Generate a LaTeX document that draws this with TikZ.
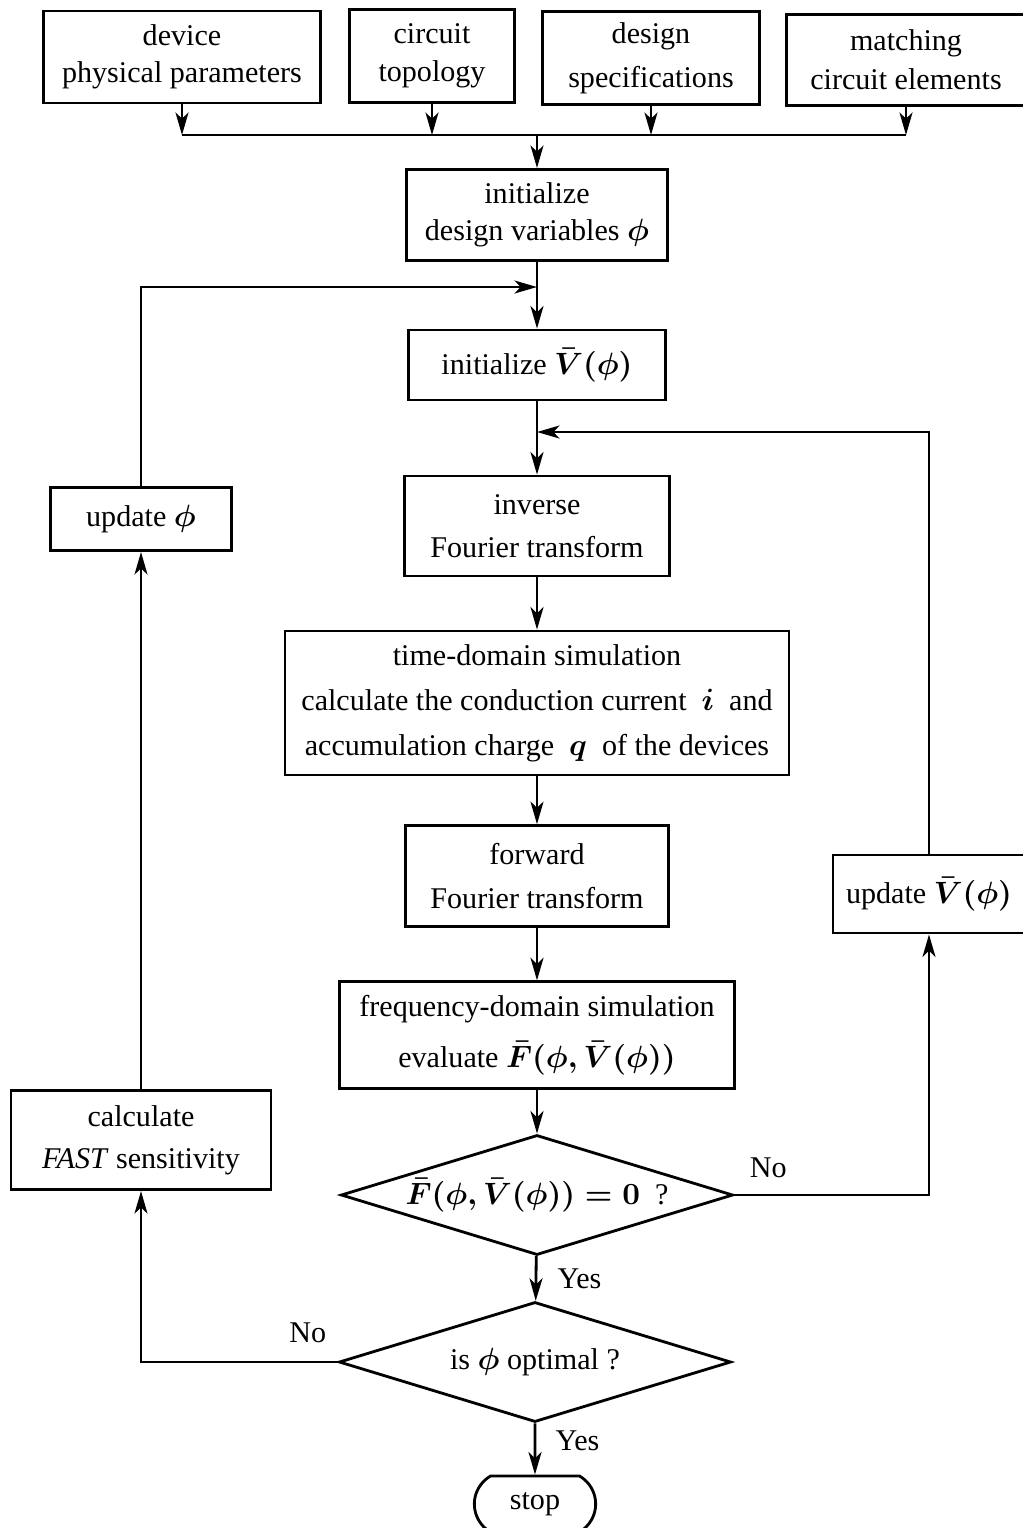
\documentclass[tikz,border=0pt]{standalone}
\usepackage{amsmath}
\usepackage[no-math]{fontspec}
\setmainfont{Liberation Serif}
\usetikzlibrary{arrows.meta, positioning, shapes.geometric, shapes.misc}
\newcommand{\bfm}[1]{{\boldmath$#1$}}

\begin{document}
\begin{tikzpicture}[
  x=0.0125cm, y=-0.0125cm,
  line width=1pt,
  every node/.style={font=\fontsize{10.7}{13}\selectfont, align=center},
  box/.style={draw, inner sep=2pt},
  decide/.style={draw, diamond, aspect=3.27, inner sep=0pt, minimum width=4.9cm, minimum height=1.5cm},
  lbl/.style={inner sep=0pt},
  arr/.style={-{Stealth[length=8pt, width=4.6pt, inset=2.2pt]}}
]
\useasboundingbox (0,0) rectangle (1023,1528);

\node[box, minimum width=3.46cm, minimum height=1.15cm] (dev) at (182,57) {device\\physical parameters};
\node[box, minimum width=2.06cm, minimum height=1.16cm] (topo) at (432,56) {circuit\\[0.5pt]topology};
\node[box, minimum width=2.71cm, minimum height=1.16cm] (spec) at (651,58) {design\\[2.5pt]specifications};
\node[box, minimum width=2.98cm, minimum height=1.14cm] (match) at (906,60) {matching\\[1pt]circuit elements};
\coordinate (bus) at (537,135);

\node[box, minimum width=3.26cm, minimum height=1.14cm] (init) at (537,215) {initialize\\design variables \bfm{\phi}};
\coordinate (fbphi) at (537,287);
\node[box, minimum width=3.22cm, minimum height=0.875cm] (initV) at (537,365) {initialize \bfm{\bar V(\phi)}};
\coordinate (fbV) at (537,432);
\node[box, minimum width=3.31cm, minimum height=1.25cm] (inv) at (537,526) {inverse\\[2.5pt]Fourier transform};
\node[box, minimum width=6.3cm, minimum height=1.8cm] (time) at (537,703) {time-domain simulation\\[3pt]calculate the conduction current~~\bfm{i}~~and\\[3pt]accumulation charge~~\bfm{q}~~of the devices};
\node[box, minimum width=3.29cm, minimum height=1.26cm] (fwd) at (537,876) {forward\\[2.5pt]Fourier transform};
\node[box, minimum width=4.94cm, minimum height=1.33cm] (freq) at (537,1035) {frequency-domain simulation\\[5pt]evaluate \bfm{\bar F(\phi,\bar V(\phi))}};
\node[decide] (chk) at (537,1195) {\bfm{\bar F(\phi,\bar V(\phi))=0}~~?};
\node[decide] (opt) at (535,1362) {is \bfm{\phi} optimal ?};
\node[draw, rounded rectangle, rounded rectangle arc length=120, minimum width=1.75cm, minimum height=0.7cm] (stop) at (535,1504) {stop};

\node[box, minimum width=2.4cm, minimum height=0.975cm] (updV) at (929,894) {update \bfm{\bar V(\phi)}};
\node[box, minimum width=2.26cm, minimum height=0.79cm] (updphi) at (141,519) {update \bfm{\phi}};
\node[box, minimum width=3.25cm, minimum height=1.24cm] (calc) at (141,1140) {calculate\\[2pt]\textit{FAST} sensitivity};

\node[lbl, above right=0.2cm and 0.175cm of chk.east] (no1) {No};
\node[lbl, below right=0.14cm and 0.24cm of chk.south] (yes1) {Yes};
\node[lbl, above left=0.22cm and 0.125cm of opt.west] (no2) {No};
\node[lbl, below right=0.08cm and 0.24cm of opt.south] (yes2) {Yes};

\foreach \n in {dev,topo,spec,match}
  \draw[arr] (\n) -- (\n |- bus);
\draw (dev |- bus) -- (match |- bus);
\draw[arr] (bus) -- (init);
\draw[arr] (init) -- (initV);
\draw[arr] (updphi) -- (updphi |- fbphi) -- (fbphi);
\draw[arr] (initV) -- (inv);
\draw[arr] (updV) -- (updV |- fbV) -- (fbV);
\draw[arr] (inv) -- (time);
\draw[arr] (time) -- (fwd);
\draw[arr] (fwd) -- (freq);
\draw[arr] (freq) -- (chk);
\draw[arr] (chk.east) -- (updV |- chk.east) -- (updV);
\draw[arr] (chk) -- (opt);
\draw[arr] (opt.west) -- (calc |- opt.west) -- (calc);
\draw[arr] (calc) -- (updphi);
\draw[arr] (opt) -- (stop);
\end{tikzpicture}
\end{document}
